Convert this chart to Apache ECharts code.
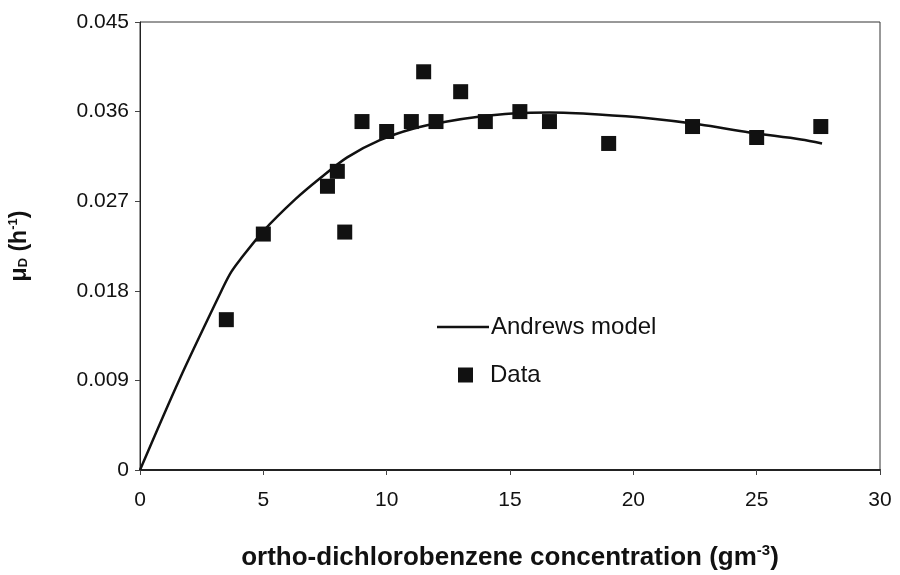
<!DOCTYPE html>
<html>
<head>
<meta charset="utf-8">
<script src="https://cdn.jsdelivr.net/npm/echarts@6/dist/echarts.min.js"></script>
<style>
html,body{margin:0;padding:0;background:#fff;}
#main{width:900px;height:575px;}
</style>
</head>
<body>
<div id="main"></div>
<script>
// Measured data points
const dataX = [3.5, 5.0, 7.6, 8.0, 8.3, 9.0, 10.0, 11.0, 11.5, 12.0, 13.0, 14.0, 15.4, 16.6, 19.0, 22.4, 25.0, 27.6];
const dataY = [0.0151, 0.0237, 0.0285, 0.0300, 0.0239, 0.0350, 0.0340, 0.0350, 0.0400, 0.0350, 0.0380, 0.0350, 0.0360, 0.0350, 0.0328, 0.0345, 0.0334, 0.0345];

// Andrews model curve
const modelX = [0, 1.6, 3.4, 3.7, 4.05, 5.0, 6.3, 7.3, 8.4, 9.7, 11.1, 12.45, 13.8, 15.1, 16.6, 18.6, 20.7, 22.7, 24.7, 26.8, 27.65];
const modelY = [0, 0.0091, 0.0185, 0.0199, 0.0211, 0.0240, 0.0272, 0.0293, 0.0314, 0.0331, 0.0343, 0.0350, 0.0355, 0.0358, 0.0359, 0.0357, 0.0353, 0.0347, 0.0339, 0.0332, 0.0328];

const xTicks = {min: 0, max: 30, interval: 5};
const yTicks = {min: 0, max: 0.045, interval: 0.009};

const font = 'Liberation Sans, Arial, Helvetica, sans-serif';
const chart = echarts.init(document.getElementById('main'), null, {renderer: 'canvas'});

chart.setOption({
  animation: false,
  backgroundColor: '#fff',
  grid: {left: 140, right: 20, top: 22, bottom: 105, show: true, borderColor: '#333', borderWidth: 1,
         backgroundColor: 'transparent', containLabel: false, outerBoundsMode: 'none'},
  legend: [
    {data: [{name: 'Andrews model', icon: 'rect'}], left: 432, top: 310, itemWidth: 52, itemHeight: 2.5, itemGap: 0,
     itemStyle: {color: '#111', opacity: 1},
     textStyle: {fontFamily: font, fontSize: 24, color: '#111', padding: [0, 0, 0, -3]}},
    {data: [{name: 'Data', icon: 'rect'}], left: 453, top: 358, itemWidth: 15, itemHeight: 15,
     itemStyle: {color: '#111', opacity: 1},
     textStyle: {fontFamily: font, fontSize: 24, color: '#111', padding: [0, 0, 0, 12]}}
  ],
  xAxis: {
    type: 'value', min: xTicks.min, max: xTicks.max, interval: xTicks.interval,
    axisLine: {show: true, lineStyle: {color: '#222', width: 2}},
    axisTick: {show: true, inside: false, length: 5, lineStyle: {color: '#444'}},
    splitLine: {show: false},
    axisLabel: {fontFamily: font, fontSize: 21, color: '#111', margin: 20},
    name: '{t|ortho-dichlorobenzene concentration (gm}{sup|-3}{t|)}',
    nameLocation: 'middle', nameGap: 73,
    nameTextStyle: {
      rich: {
        t: {fontFamily: font, fontSize: 26, fontWeight: 'bold', color: '#111'},
        sup: {fontFamily: font, fontSize: 15, fontWeight: 'bold', color: '#111', padding: [0, 0, 14, 0]}
      }
    }
  },
  yAxis: {
    type: 'value', min: yTicks.min, max: yTicks.max, interval: yTicks.interval,
    axisLine: {show: true, lineStyle: {color: '#222', width: 1}},
    axisTick: {show: true, inside: false, length: 5, lineStyle: {color: '#444'}},
    splitLine: {show: false},
    axisLabel: {fontFamily: font, fontSize: 21, color: '#111', margin: 11,
      formatter: v => v === 0 ? '0' : v.toFixed(3)},
    name: '{t|μ}{sub|D}{t| (h}{sup|-1}{t|)}',
    nameLocation: 'middle', nameGap: 108, nameRotate: 90,
    nameTextStyle: {
      rich: {
        t: {fontFamily: font, fontSize: 23, fontWeight: 'bold', color: '#111'},
        sub: {fontFamily: font, fontSize: 13, fontWeight: 'bold', color: '#111', padding: [8, 0, 0, 0]},
        sup: {fontFamily: font, fontSize: 13, fontWeight: 'bold', color: '#111', padding: [0, 0, 12, 0]}
      }
    }
  },
  series: [
    {
      name: 'Andrews model', type: 'line', smooth: 0.3, symbol: 'none',
      data: modelX.map((x, i) => [x, modelY[i]]),
      lineStyle: {color: '#111', width: 2.5},
      itemStyle: {color: '#111'},
      z: 2
    },
    {
      name: 'Data', type: 'scatter', symbol: 'rect', symbolSize: 15,
      data: dataX.map((x, i) => [x, dataY[i]]),
      itemStyle: {color: '#111', opacity: 1},
      z: 3
    }
  ]
});
</script>
</body>
</html>
